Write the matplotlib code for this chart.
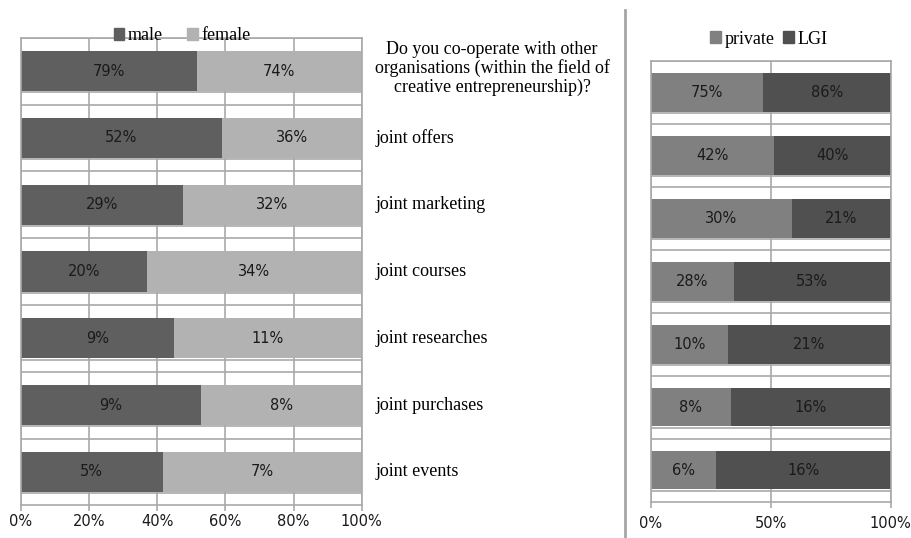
import numpy as np
import matplotlib.pyplot as plt
from matplotlib.lines import Line2D
from matplotlib.patches import Patch
from matplotlib.transforms import blended_transform_factory

# -- survey answers: counts shown as percent labels, bars are normalised to 100%
categories = [
    "Do you co-operate with other\norganisations (within the field of\ncreative entrepreneurship)?",
    "joint offers",
    "joint marketing",
    "joint courses",
    "joint researches",
    "joint purchases",
    "joint events",
]
male = [79, 52, 29, 20, 9, 9, 5]
female = [74, 36, 32, 34, 11, 8, 7]
private = [75, 42, 30, 28, 10, 8, 6]
lgi = [86, 40, 21, 53, 21, 16, 16]

W, H = 912, 538
GRID = "#a9a9a9"
SERIF = "Liberation Serif"
NUMFONT = "DejaVu Sans"


def px_box(x0, y0, x1, y1):
    # pixel box (top-left origin) -> figure fraction rect
    return [x0 / W, 1 - y1 / H, (x1 - x0) / W, (y1 - y0) / H]


def stacked_panel(ax, a, b, col_a, col_b, bar_h, extra_line, xticks, xticklabels, pad):
    a = np.array(a, dtype=float)
    b = np.array(b, dtype=float)
    tot = a + b
    fa, fb = a / tot, b / tot
    y = np.arange(len(a))

    ax.barh(y, fa, height=bar_h, color=col_a, zorder=2)
    ax.barh(y, fb, left=fa, height=bar_h, color=col_b, zorder=2)

    for i in range(len(a)):
        ax.text(fa[i] / 2, y[i], f"{int(a[i])}%", ha="center", va="center",
                fontsize=10.5, family=NUMFONT, color="#1a1a1a", zorder=3)
        ax.text(fa[i] + fb[i] / 2, y[i], f"{int(b[i])}%", ha="center", va="center",
                fontsize=10.5, family=NUMFONT, color="#1a1a1a", zorder=3)

    # horizontal lines at cell borders and just under each bar
    for i in range(len(a)):
        ax.axhline(i - 0.5, color=GRID, lw=1.2, zorder=1)
        ax.axhline(i + extra_line, color=GRID, lw=1.2, zorder=1)
    for xv in xticks:
        ax.axvline(xv, color=GRID, lw=1.2, zorder=1)

    ax.set_xlim(0, 1)
    ax.set_ylim(len(a) - 0.5, -0.5)
    ax.set_yticks([])
    ax.set_xticks(xticks)
    ax.set_xticklabels(xticklabels, family=NUMFONT, fontsize=10.5, color="#1a1a1a")
    ax.tick_params(axis="x", direction="out", length=4, width=1.2, color=GRID, pad=pad)
    for sp in ax.spines.values():
        sp.set_color(GRID)
        sp.set_linewidth(1.2)


fig = plt.figure(figsize=(W / 100, H / 100), dpi=100)

# -- left panel: male / female
ax1 = fig.add_axes(px_box(20.7, 37.7, 361.7, 505.3))
stacked_panel(ax1, male, female, "#5f5f5f", "#b2b2b2", 0.6, 0.32,
              [0, 0.2, 0.4, 0.6, 0.8, 1.0], ["0%", "20%", "40%", "60%", "80%", "100%"], 2)

trans = blended_transform_factory(ax1.transAxes, ax1.transData)
ax1.text((492 - 20.7) / 341, -0.04, categories[0], transform=trans, ha="center", va="center",
         multialignment="center", family=SERIF, fontsize=13, linespacing=1.1)
for i, lab in enumerate(categories[1:], start=1):
    ax1.text((376 - 20.7) / 341, i, lab, transform=trans, ha="left", va="center",
             family=SERIF, fontsize=13)

ax1.legend(handles=[Patch(color="#5f5f5f", label="male"), Patch(color="#b2b2b2", label="female")],
           loc="center", bbox_to_anchor=((182 - 20.7) / 341, 1 + 2 / 467.6), ncol=2, frameon=False,
           prop={"family": SERIF, "size": 13}, handlelength=0.6, handleheight=0.6,
           handletextpad=0.2, columnspacing=1.3, borderpad=0)

# -- right panel: private / LGI
ax2 = fig.add_axes(px_box(651, 61, 890.7, 501.7))
stacked_panel(ax2, private, lgi, "#808080", "#505050", 0.61, 0.33,
              [0, 0.5, 1.0], ["0%", "50%", "100%"], 6)

ax2.legend(handles=[Patch(color="#808080", label="private"), Patch(color="#505050", label="LGI")],
           loc="center", bbox_to_anchor=((769 - 651) / 239.7, 1 + 22 / 440.7), ncol=2, frameon=False,
           prop={"family": SERIF, "size": 13}, handlelength=0.6, handleheight=0.6,
           handletextpad=0.2, columnspacing=0.5, borderpad=0)

# -- separator between the two panels
fig.add_artist(Line2D([625 / W, 625 / W], [0, 1 - 10 / H], color="#a6a6a6", lw=2))

plt.savefig("out.png", dpi=100)
plt.close()
